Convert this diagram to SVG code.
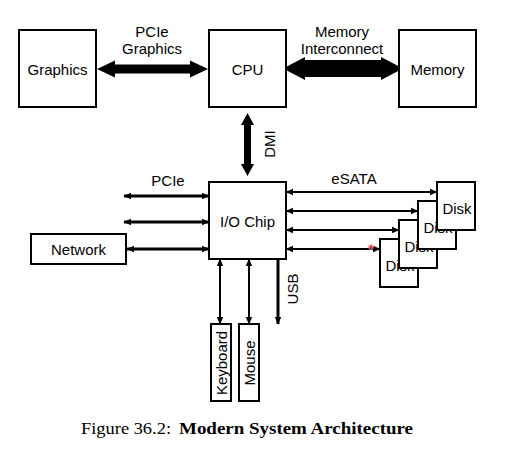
<svg xmlns="http://www.w3.org/2000/svg" width="509" height="460" viewBox="0 0 509 460">
<style>
.box{fill:#fff;stroke:#000;stroke-width:2}
.lbl{font-family:"Liberation Sans",Arial,sans-serif;font-size:15px;fill:#000;text-anchor:middle;dominant-baseline:central}
.thick{stroke:#000;stroke-width:3;fill:none}
.thin{stroke:#000;stroke-width:2;fill:none}
.big{fill:#000}
.cap{font-family:"Liberation Serif","Times New Roman",serif;font-size:16px;fill:#000}
</style>
<defs>
<marker id="ah" markerUnits="userSpaceOnUse" markerWidth="8" markerHeight="8" viewBox="0 0 8 8" refX="7" refY="4" orient="auto-start-reverse">
<path d="M0,0.8 L7.5,4 L0,7.2 Z" fill="#000"/>
</marker>
</defs>
<rect width="509" height="460" fill="#fff"/>
<g id="connectors">
<polygon class="big" points="97,69 115,60.5 115,64.5 190,64.5 190,60.5 208,69 190,77.5 190,73.5 115,73.5 115,77.5"/>
<polygon class="big" points="283,68.5 305,57 305,60 381,60 381,57 403,68.5 381,80 381,77 305,77 305,80"/>
<polygon class="big" points="247.5,113 254,125 251,125 251,164 254,164 247.5,176 241,164 244,164 244,125 241,125"/>
<path class="thick" d="M124,196 H209" marker-start="url(#ah)" marker-end="url(#ah)"/>
<path class="thick" d="M124,222 H209" marker-start="url(#ah)" marker-end="url(#ah)"/>
<path class="thick" d="M127,249 H209" marker-start="url(#ah)" marker-end="url(#ah)"/>
<path class="thin" d="M286,192 H437" marker-start="url(#ah)" marker-end="url(#ah)"/>
<path class="thin" d="M286,211 H418" marker-start="url(#ah)" marker-end="url(#ah)"/>
<path class="thin" d="M286,230 H399" marker-start="url(#ah)" marker-end="url(#ah)"/>
<path class="thin" d="M286,249 H380" marker-start="url(#ah)" marker-end="url(#ah)"/>
<path class="thin" d="M220,259 V324" marker-start="url(#ah)" marker-end="url(#ah)"/>
<path class="thin" d="M249,259 V324" marker-start="url(#ah)" marker-end="url(#ah)"/>
<path class="thick" d="M278,259 V324" marker-end="url(#ah)"/>
<text class="lbl" x="152" y="31">PCIe</text>
<text class="lbl" x="152" y="48">Graphics</text>
<text class="lbl" x="342" y="31">Memory</text>
<text class="lbl" x="342" y="48">Interconnect</text>
<text class="lbl" transform="translate(269,144) rotate(-90)">DMI</text>
<text class="lbl" x="168" y="180">PCIe</text>
<text class="lbl" x="354" y="178">eSATA</text>
<text class="lbl" transform="translate(292,289) rotate(-90)">USB</text>
</g>
<g id="graphics"><rect class="box" x="19" y="30" width="77" height="77"/><text class="lbl" x="57.5" y="69">Graphics</text></g>
<g id="cpu"><rect class="box" x="209" y="30" width="77" height="77"/><text class="lbl" x="247.5" y="69">CPU</text></g>
<g id="memory"><rect class="box" x="399" y="30" width="77" height="77"/><text class="lbl" x="437.5" y="69">Memory</text></g>
<g id="iochip"><rect class="box" x="209" y="182" width="77" height="77"/><text class="lbl" x="247.5" y="221">I/O Chip</text></g>
<g id="network"><rect class="box" x="31" y="234" width="95" height="30"/><text class="lbl" x="78.5" y="249">Network</text></g>
<g id="disk4"><rect class="box" x="380" y="239" width="38" height="48"/><text class="lbl" x="400" y="265">Disk</text></g>
<g id="disk3"><rect class="box" x="399" y="220" width="38" height="48"/><text class="lbl" x="419" y="246">Disk</text></g>
<g id="disk2"><rect class="box" x="418" y="201" width="38" height="48"/><text class="lbl" x="438" y="227">Disk</text></g>
<g id="disk1"><rect class="box" x="437" y="182" width="38" height="48"/><text class="lbl" x="457" y="208">Disk</text></g>
<g id="keyboard"><rect class="box" x="211" y="324" width="20" height="77"/><text class="lbl" transform="translate(221,363) rotate(-90)">Keyboard</text></g>
<g id="mouse"><rect class="box" x="239" y="324" width="20" height="77"/><text class="lbl" transform="translate(249,363) rotate(-90)">Mouse</text></g>
<circle cx="371" cy="247" r="3" fill="#f08090" opacity="0.6"/>
<circle cx="371" cy="247" r="1.6" fill="#e03040"/>
<text class="cap" x="81" y="434" textLength="90" lengthAdjust="spacingAndGlyphs">Figure 36.2:</text>
<text class="cap" x="179" y="434" font-weight="bold" textLength="234" lengthAdjust="spacingAndGlyphs">Modern System Architecture</text>
</svg>
